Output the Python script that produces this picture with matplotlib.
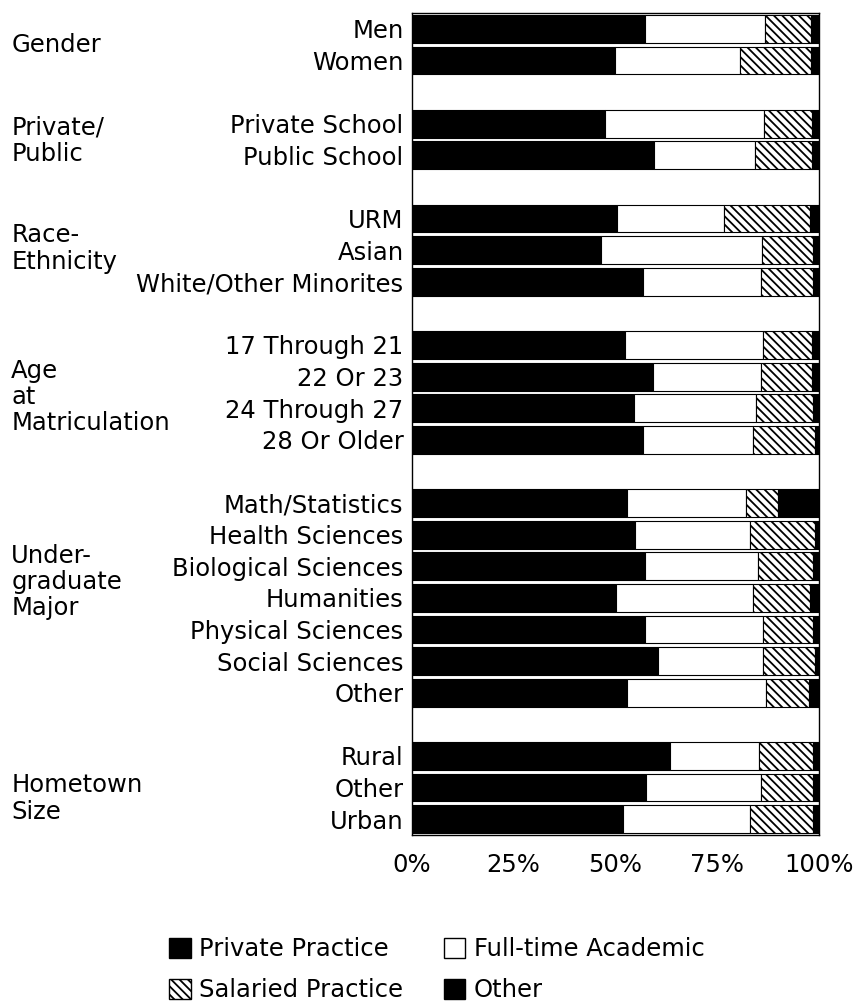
import matplotlib
matplotlib.use("Agg")
import matplotlib.pyplot as plt
from matplotlib.patches import Patch
import matplotlib.transforms as mtransforms

plt.rcParams['font.family'] = ['DejaVu Sans']
plt.rcParams['hatch.linewidth'] = 1.3

# Groups of respondents, in display order
groups = ["Gender", "Private/\nPublic", "Race-\nEthnicity", "Age\nat\nMatriculation",
          "Under-\ngraduate\nMajor", "Hometown\nSize"]
group_members = [
    ["Men", "Women"],
    ["Private School", "Public School"],
    ["URM", "Asian", "White/Other Minorites"],
    ["17 Through 21", "22 Or 23", "24 Through 27", "28 Or Older"],
    ["Math/Statistics", "Health Sciences", "Biological Sciences", "Humanities",
     "Physical Sciences", "Social Sciences", "Other"],
    ["Rural", "Other", "Urban"],
]

# Share of each career type (%), one value per category in the order above
private_practice = [57.3, 50.0, 47.5, 59.5, 50.5, 46.6, 56.8, 52.5, 59.3, 54.7, 56.7,
                    52.8, 54.8, 57.4, 50.1, 57.2, 60.5, 52.9, 63.4, 57.6, 51.8]
full_time_academic = [29.6, 30.7, 39.0, 24.9, 26.1, 39.4, 28.9, 33.7, 26.4, 30.0, 27.2,
                      29.3, 28.4, 27.6, 33.7, 29.2, 25.9, 34.2, 22.0, 28.2, 31.2]
salaried_practice = [11.1, 17.3, 11.8, 13.9, 21.2, 12.5, 12.8, 12.1, 12.7, 13.8, 15.1,
                     7.8, 15.8, 13.5, 14.0, 12.1, 12.8, 10.6, 13.2, 12.9, 15.7]
other = [2.0, 2.0, 1.7, 1.7, 2.2, 1.5, 1.5, 1.7, 1.6, 1.5, 1.0,
         10.1, 1.0, 1.5, 2.2, 1.5, 0.8, 2.3, 1.4, 1.3, 1.3]

x_ticks = [0, 25, 50, 75, 100]
x_tick_labels = ["0%", "25%", "50%", "75%", "100%"]

# Row positions: one blank row between groups
positions, labels, group_rows = [], [], []
row = 0
for members in group_members:
    rows_here = []
    for m in members:
        positions.append(row)
        labels.append(m)
        rows_here.append(row)
        row += 1
    group_rows.append(rows_here)
    row += 1
n_rows = row - 1

fig = plt.figure(figsize=(8.6, 10.06), dpi=100)
ax = fig.add_axes([0.479, 0.170, 0.473, 0.817])

fs = 17.5
bar_h = 0.88
hatch = "\\" * 4
series = [
    (private_practice, dict(color="black")),
    (full_time_academic, dict(color="white")),
    (salaried_practice, dict(color="white", hatch=hatch)),
    (other, dict(color="black")),
]
left = [0.0] * len(positions)
for vals, style in series:
    ax.barh(positions, vals, left=left, height=bar_h, edgecolor="black",
            linewidth=0.8, **style)
    left = [a + b for a, b in zip(left, vals)]

ax.set_xlim(0, 100)
ax.set_ylim(n_rows - 0.5, -0.5)
ax.set_yticks(positions)
ax.set_yticklabels(labels, fontsize=fs)
ax.set_xticks(x_ticks)
ax.set_xticklabels(x_tick_labels, fontsize=fs)
ax.tick_params(axis="both", length=0)
ax.tick_params(axis="y", pad=6)
ax.tick_params(axis="x", pad=13)
for s in ax.spines.values():
    s.set_linewidth(1.0)
    s.set_color("black")

# Group captions at the far left, centred on their rows
label_shift = [0.0, 0.05, -0.05, 0.15, -0.5, 0.35]
trans = mtransforms.blended_transform_factory(fig.transFigure, ax.transData)
for name, rows_here, dy in zip(groups, group_rows, label_shift):
    yc = sum(rows_here) / len(rows_here) + dy
    ax.text(0.013, yc, name, transform=trans, ha="left", va="center",
            fontsize=fs, linespacing=1.12)

handles = [
    Patch(facecolor="black", edgecolor="black", label="Private Practice"),
    Patch(facecolor="white", edgecolor="black", hatch=hatch, label="Salaried Practice"),
    Patch(facecolor="white", edgecolor="black", label="Full-time Academic"),
    Patch(facecolor="black", edgecolor="black", label="Other"),
]
fig.legend(handles=handles, ncol=2, loc="center", bbox_to_anchor=(0.508, 0.036),
           frameon=False, fontsize=fs, handlelength=0.9, handleheight=0.9,
           handletextpad=0.35, columnspacing=1.65, labelspacing=0.7,
           borderpad=0.0, borderaxespad=0.0)

fig.savefig("out.png", dpi=100)
